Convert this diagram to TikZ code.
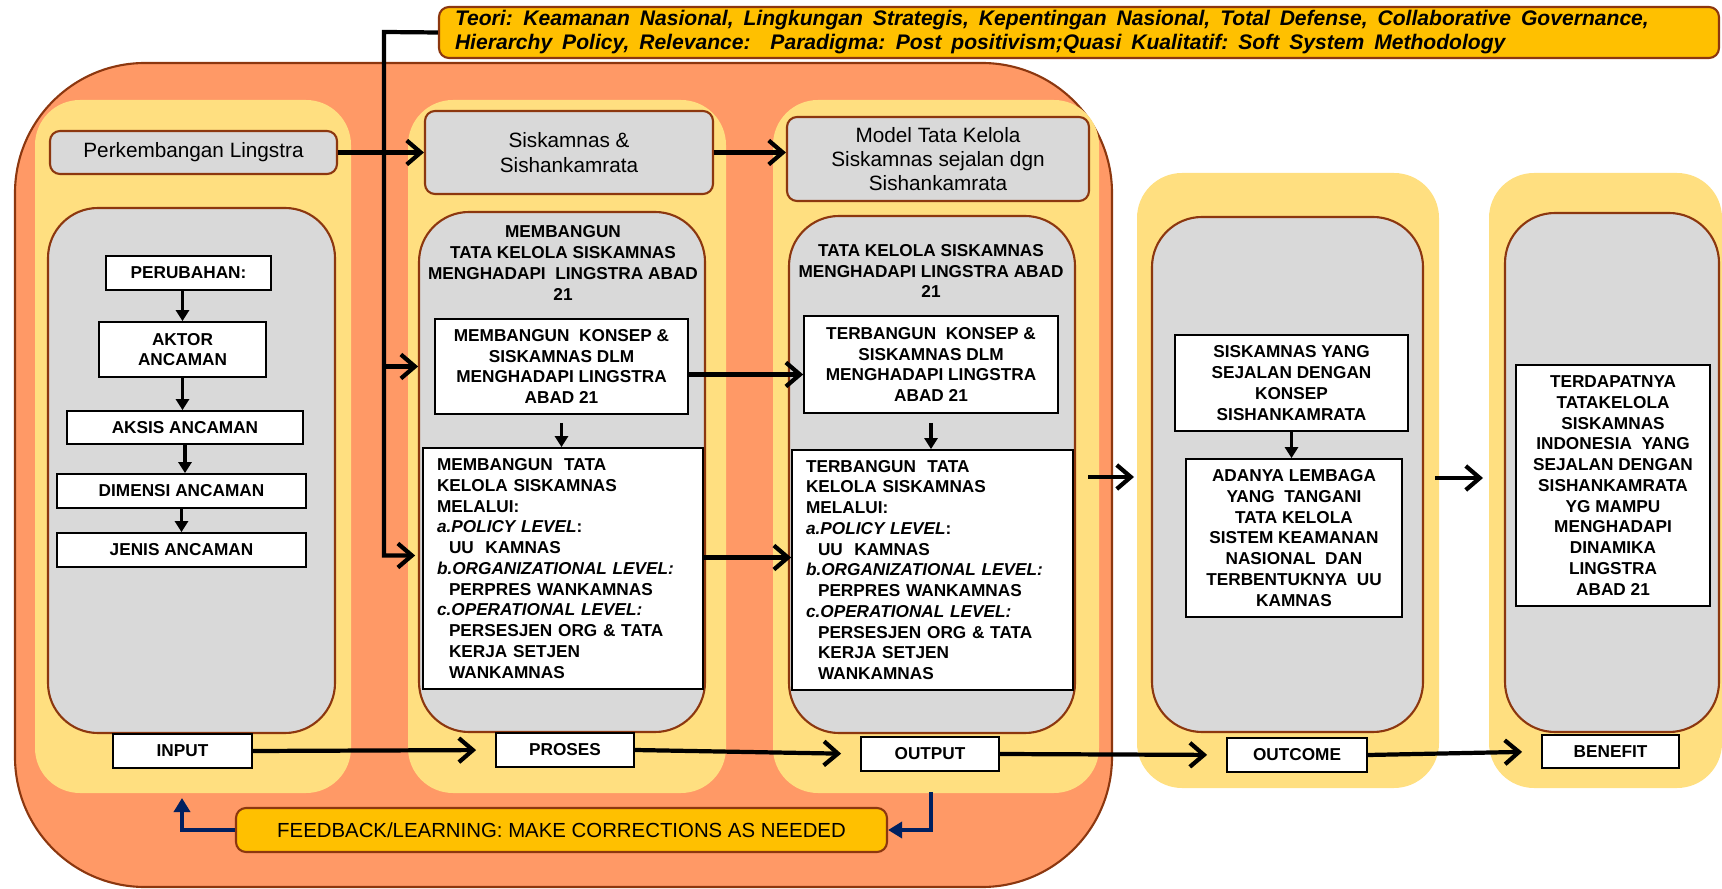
\documentclass[tikz,border=0pt]{standalone}
\usepackage{fontspec}
\setmainfont{Liberation Sans}
\usepackage{tikz}
\usetikzlibrary{arrows.meta}

\definecolor{orangebg}{RGB}{255,153,102}
\definecolor{yellowbg}{RGB}{255,223,128}
\definecolor{graybg}{RGB}{217,217,217}
\definecolor{brownln}{RGB}{140,55,15}
\definecolor{goldbg}{RGB}{255,192,0}
\definecolor{navy}{RGB}{0,32,96}

\begin{document}
\begin{tikzpicture}[x=0.1mm,y=-0.1mm,
  capfont/.style={font=\fontsize{4.9}{5.9}\selectfont\bfseries},
  box/.style={capfont,draw=black,line width=0.5pt,fill=white,inner sep=0pt,align=center},
  lbox/.style={box,align=left,inner xsep=1.4mm},
  head/.style={draw=brownln,line width=0.6pt,fill=graybg,rounded corners=1mm,inner sep=0pt,align=center,font=\fontsize{5.9}{6.9}\selectfont},
  arr/.style={line width=1.2pt,-{Straight Barb[length=1.4mm,width=2.4mm]}},
  down/.style={line width=0.9pt,-{Triangle[length=1.1mm,width=1.3mm]}},
  fb/.style={navy,line width=1.3pt,-{Triangle[length=1.4mm,width=1.6mm]}}]
\useasboundingbox (0,0) rectangle (1722,889);
% background panels
\draw[fill=orangebg,draw=brownln,line width=0.6pt,rounded corners=13mm] (15,63) rectangle (1112,887);
\foreach \l/\t/\r/\b in {35/100/351/793,408/100/726/793,773/100/1099/793,1137/173/1439/788,1489/173/1722/788}
  \fill[yellowbg,rounded corners=4.5mm] (\l,\t) rectangle (\r,\b);
\foreach \l/\t/\r/\b in {48/208/335/733,419/212/705/732,789/216/1075/733,1152/217/1423/732,1505/213/1719/732}
  \draw[fill=graybg,draw=brownln,line width=0.6pt,rounded corners=5mm] (\l,\t) rectangle (\r,\b);

% top row
\node[draw=brownln,line width=0.6pt,fill=goldbg,rounded corners=1mm,inner xsep=1.6mm,inner ysep=0pt,
  minimum height=5.1mm,text width=124.8mm,align=left,font=\fontsize{6}{6.8}\selectfont\bfseries\itshape]
  (teori) at (1079,32.5) {\spaceskip=0.47em\relax Teori: Keamanan Nasional, Lingkungan Strategis, Kepentingan Nasional, Total Defense, Collaborative Governance,\\Hierarchy Policy, Relevance:\ \ Paradigma: Post positivism;Quasi Kualitatif:\ Soft System Methodology};
\node[head,minimum width=28.7mm,minimum height=4.3mm] (lingstra) at (193.5,152.5) {Perkembangan Lingstra};
\node[head,minimum width=28.8mm,minimum height=8.3mm] (siskam) at (569,152.5) {Siskamnas \&\\Sishankamrata};
\node[head,minimum width=30.2mm,minimum height=8.4mm] (model) at (938,159) {Model Tata Kelola\\Siskamnas sejalan dgn\\Sishankamrata};

% input
\node[box,minimum width=16.5mm,minimum height=3.4mm] (perubahan) at (188.5,273) {PERUBAHAN:};
\node[box,minimum width=16.7mm,minimum height=5.5mm] (aktor) at (182.5,349.5) {AKTOR\\ANCAMAN};
\node[box,minimum width=23.6mm,minimum height=3.3mm] (aksis) at (185,427.5) {AKSIS ANCAMAN};
\node[box,minimum width=24.9mm,minimum height=3.4mm] (dimensi) at (181.5,491) {DIMENSI ANCAMAN};
\node[box,minimum width=24.9mm,minimum height=3.4mm] (jenis) at (181.5,550) {JENIS ANCAMAN};

% proses
\node[capfont,align=center] (title2) at (563,263) {MEMBANGUN\\TATA KELOLA SISKAMNAS\\MENGHADAPI\ \ LINGSTRA ABAD\\21};
\node[box,minimum width=25.3mm,minimum height=9.5mm] (konsep) at (561.5,366.5) {MEMBANGUN\ \ KONSEP \&\\SISKAMNAS DLM\\MENGHADAPI LINGSTRA\\ABAD 21};
\node[lbox,text width=25.2mm,minimum height=24.1mm] (tata) at (563,568.5) {MEMBANGUN\ \ TATA\\KELOLA SISKAMNAS\\MELALUI:\\\textit{a.POLICY LEVEL}:\\\hspace*{1.2mm}UU\ \ KAMNAS\\\textit{b.ORGANIZATIONAL LEVEL:}\\\hspace*{1.2mm}PERPRES WANKAMNAS\\\textit{c.OPERATIONAL LEVEL:}\\\hspace*{1.2mm}PERSESJEN ORG \& TATA\\\hspace*{1.2mm}KERJA SETJEN\\\hspace*{1.2mm}WANKAMNAS};

% output
\node[capfont,align=center] (title3) at (931,271) {TATA KELOLA SISKAMNAS\\MENGHADAPI LINGSTRA ABAD\\21};
\node[box,minimum width=25.4mm,minimum height=9.7mm] (tkonsep) at (931,364.5) {TERBANGUN\ \ KONSEP \&\\SISKAMNAS DLM\\MENGHADAPI LINGSTRA\\ABAD 21};
\node[lbox,text width=25.3mm,minimum height=24mm] (ttata) at (932.5,570) {TERBANGUN\ \ TATA\\KELOLA SISKAMNAS\\MELALUI:\\\textit{a.POLICY LEVEL}:\\\hspace*{1.2mm}UU\ \ KAMNAS\\\textit{b.ORGANIZATIONAL LEVEL:}\\\hspace*{1.2mm}PERPRES WANKAMNAS\\\textit{c.OPERATIONAL LEVEL:}\\\hspace*{1.2mm}PERSESJEN ORG \& TATA\\\hspace*{1.2mm}KERJA SETJEN\\\hspace*{1.2mm}WANKAMNAS};

% outcome, benefit
\node[box,minimum width=23.3mm,minimum height=9.6mm] (siskyang) at (1291.5,383) {SISKAMNAS YANG\\SEJALAN DENGAN\\KONSEP\\SISHANKAMRATA};
\node[box,minimum width=21.6mm,minimum height=15.8mm] (adanya) at (1294,538) {ADANYA LEMBAGA\\YANG\ \ TANGANI\\TATA KELOLA\\SISTEM KEAMANAN\\NASIONAL\ \ DAN\\TERBENTUKNYA\ \ UU\\KAMNAS};
\node[box,minimum width=19.4mm,minimum height=24.1mm] (terdapat) at (1613,485.5) {TERDAPATNYA\\TATAKELOLA\\SISKAMNAS\\INDONESIA\ \ YANG\\SEJALAN DENGAN\\SISHANKAMRATA\\YG MAMPU\\MENGHADAPI\\DINAMIKA\\LINGSTRA\\ABAD 21};

% bottom row
\node[box,minimum width=13.9mm,minimum height=3.4mm] (input) at (182.5,751) {INPUT};
\node[box,minimum width=13.8mm,minimum height=3.4mm] (proses) at (565,750) {PROSES};
\node[box,minimum width=13.8mm,minimum height=3.4mm] (output) at (930,754) {OUTPUT};
\node[box,minimum width=14mm,minimum height=3.4mm] (outcome) at (1297,755) {OUTCOME};
\node[box,minimum width=13.7mm,minimum height=3.3mm] (benefit) at (1610.5,751.5) {BENEFIT};
\node[draw=brownln,line width=0.6pt,fill=goldbg,rounded corners=1mm,minimum width=65.1mm,minimum height=4.4mm,
  inner sep=0pt,font=\fontsize{5.8}{6.8}\selectfont] (feedback) at (561.5,830) {FEEDBACK/LEARNING: MAKE CORRECTIONS AS NEEDED};

% connectors
\coordinate (bus) at (384,32);
\draw[arr,shorten >=0.7mm] (teori.west) -- (bus) |- ([yshift=1.3mm]tata.west);
\draw[arr,shorten >=1.6mm] (bus |- konsep.west) -- (konsep.west);
\draw[arr] (lingstra.east) -- (siskam.west);
\draw[arr] (siskam.east) -- (siskam.east -| model.west);
\draw[arr] ([yshift=-0.8mm]konsep.east) -- ([yshift=-0.8mm]konsep.east -| tkonsep.west);
\draw[arr] ([yshift=1.1mm]tata.east) -- ([yshift=1.1mm]tata.east -| ttata.west);
\draw[down] (aktor.north |- perubahan.south) -- (aktor.north);
\draw[down] (aktor.south) -- (aktor.south |- aksis.north);
\draw[down] (aksis.south) -- (aksis.south |- dimensi.north);
\draw[down] (dimensi.south) -- (dimensi.south |- jenis.north);
\draw[down,shorten <=0.8mm] (konsep.south) -- (konsep.south |- tata.north);
\draw[down,shorten <=0.9mm] (tkonsep.south) -- (tkonsep.south |- ttata.north);
\draw[down] (siskyang.south) -- (siskyang.south |- adanya.north);
\coordinate (p3e) at (1088,477);
\coordinate (p4w) at (1134,477);
\coordinate (p4e) at (1435,478);
\coordinate (p5w) at (1483,478);
\draw[arr] (p3e) -- (p4w);
\draw[arr] (p4e) -- (p5w);
\draw[arr,shorten >=1.9mm] (input.east) -- (proses.west);
\draw[arr,shorten >=1.9mm] (proses.east) -- (output.west);
\draw[arr,shorten >=1.9mm] (output.east) -- (outcome.west);
\draw[arr,shorten >=1.9mm] (outcome.east) -- (benefit.west);
\coordinate (fbout) at (931,792);
\coordinate (fbin) at (182,798);
\draw[fb] (fbout) |- (feedback.east);
\draw[fb] (feedback.west) -| (fbin);
\end{tikzpicture}
\end{document}
